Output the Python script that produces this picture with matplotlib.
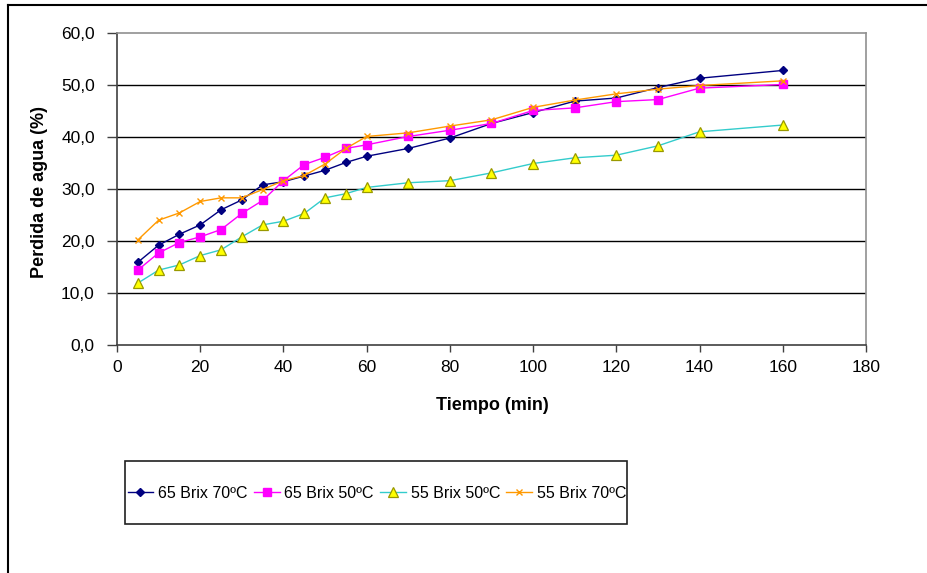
import numpy as np
import matplotlib
matplotlib.use('Agg')
import matplotlib.pyplot as plt
from matplotlib.lines import Line2D
from matplotlib.patches import Rectangle
from matplotlib.ticker import FuncFormatter

plt.rcParams['font.family'] = ['Liberation Sans', 'DejaVu Sans']

# tiempo (min)
tiempo = [5, 10, 15, 20, 25, 30, 35, 40, 45, 50, 55, 60, 70, 80, 90,
          100, 110, 120, 130, 140, 160]

# perdida de agua (%) por tratamiento
brix65_70 = [15.9, 19.2, 21.3, 23.1, 26.0, 27.9, 30.8, 31.4, 32.5, 33.6, 35.1,
             36.3, 37.8, 39.8, 42.6, 44.7, 46.9, 47.5, 49.5, 51.3, 52.8]
brix65_50 = [14.4, 17.7, 19.7, 20.8, 22.2, 25.3, 27.8, 31.6, 34.7, 36.1, 37.8,
             38.5, 40.1, 41.3, 42.6, 45.1, 45.6, 46.8, 47.2, 49.4, 50.1]
brix55_50 = [11.9, 14.4, 15.4, 17.2, 18.3, 20.8, 23.1, 23.8, 25.3, 28.3, 29.1,
             30.3, 31.2, 31.6, 33.1, 34.9, 36.0, 36.5, 38.3, 41.0, 42.3]
brix55_70 = [20.2, 24.0, 25.4, 27.6, 28.3, 28.3, 29.9, 31.6, 32.6, 34.8, 37.8,
             40.1, 40.8, 42.1, 43.3, 45.7, 47.1, 48.3, 49.2, 49.9, 50.8]

series = [
    ('65 Brix 70ºC', brix65_70, dict(color='#000080', marker='D', ms=4.5,
                                     mfc='#000080', mec='#000080')),
    ('65 Brix 50ºC', brix65_50, dict(color='#FF00FF', marker='s', ms=5.5,
                                     mfc='#FF00FF', mec='#FF00FF')),
    ('55 Brix 50ºC', brix55_50, dict(color='#33CCCC', marker='^', ms=6.5,
                                     mfc='#FFFF00', mec='#999900', mew=0.9)),
    ('55 Brix 70ºC', brix55_70, dict(color='#FF9900', marker='x', ms=5,
                                     mfc='#FF9900', mec='#FF9900', mew=1.0)),
]

W, H = 928, 573
fig = plt.figure(figsize=(W / 100, H / 100), dpi=100)
ax = fig.add_axes([117 / W, 1 - 345 / H, 749 / W, 312 / H])

for name, vals, st in series:
    ax.plot(tiempo, vals, lw=1.0, label=name, **st)

ax.set_xlim(0, 180)
ax.set_ylim(0, 60)
ax.set_xticks(np.arange(0, 181, 20))
ax.set_yticks(np.arange(0, 61, 10))
ax.yaxis.set_major_formatter(FuncFormatter(lambda v, p: f'{v:.1f}'.replace('.', ',')))
ax.tick_params(axis='both', direction='out', width=1, color='#404040', labelsize=12.5)
ax.tick_params(axis='x', length=5, pad=6)
ax.tick_params(axis='y', length=7, pad=9)
for y in range(10, 60, 10):
    ax.axhline(y, color='black', lw=1.0, zorder=0)
for side in ['left', 'bottom']:
    ax.spines[side].set_color('#404040')
    ax.spines[side].set_linewidth(1.2)
for side in ['top', 'right']:
    ax.spines[side].set_color('#909090')
    ax.spines[side].set_linewidth(1.2)

fig.text(492 / W, 1 - 405 / H, 'Tiempo (min)', fontsize=13, fontweight='bold',
         ha='center', va='center')
fig.text(40 / W, 1 - 192 / H, 'Perdida de agua (%)', fontsize=13, fontweight='bold',
         ha='center', va='center', rotation=90)

# legend box
fig.patches.append(Rectangle((125 / W, 1 - 524 / H), 502 / W, 63 / H,
                             transform=fig.transFigure, fill=False,
                             ec='#202020', lw=1.2))
handles, labels = ax.get_legend_handles_labels()
fig.legend(handles, labels, loc='center', ncol=4, frameon=False,
           bbox_to_anchor=(377 / W, 1 - 493 / H), fontsize=11.5,
           handlelength=1.6, handletextpad=0.3, columnspacing=0.4)

# outer chart border (partly cut)
fig.add_artist(Line2D([8 / W, 8 / W], [0, 1 - 5 / H], transform=fig.transFigure,
                      color='black', lw=1.5))
fig.add_artist(Line2D([8 / W, 1], [1 - 5 / H, 1 - 5 / H], transform=fig.transFigure,
                      color='black', lw=1.5))

fig.savefig('out.png', dpi=100)
